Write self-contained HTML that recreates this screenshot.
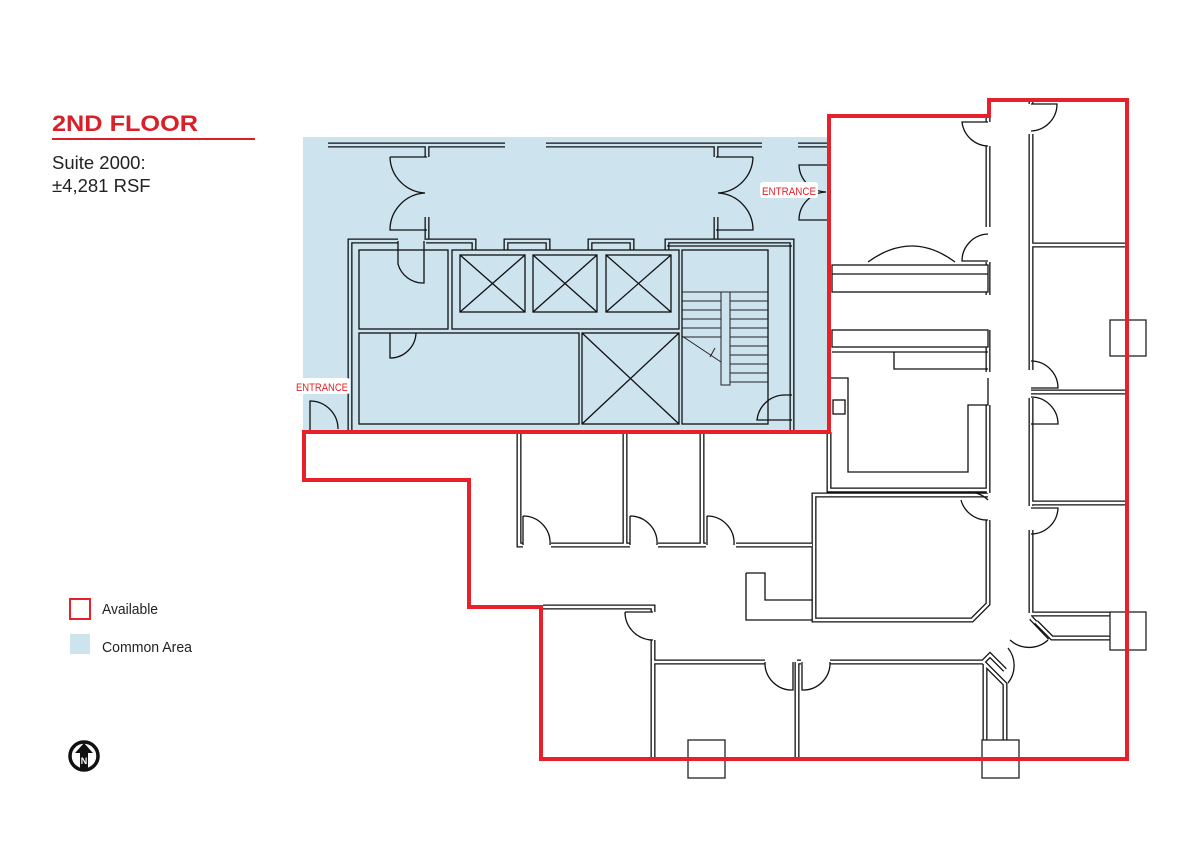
<!DOCTYPE html>
<html><head><meta charset="utf-8"><style>
html,body{margin:0;padding:0;background:#fff;}
body{width:1200px;height:850px;position:relative;overflow:hidden;font-family:"Liberation Sans",sans-serif;}
svg{position:absolute;left:0;top:0;}
.wo{fill:none;stroke:#111;stroke-width:5;stroke-linejoin:miter;stroke-linecap:butt}
.wi{fill:none;stroke:#fff;stroke-width:2.4;stroke-linejoin:miter;stroke-linecap:butt}
.wib{fill:none;stroke:#cde3ee;stroke-width:2.4}
.ln{fill:none;stroke:#111;stroke-width:1.3}
.th{fill:none;stroke:#222;stroke-width:1}
.bx{fill:#fff;stroke:#222;stroke-width:1.3}
</style></head><body>
<svg width="1200" height="850" viewBox="0 0 1200 850">
<rect x="303" y="137" width="526" height="295" fill="#cde3ee"/>

<g>
<path class="wo" d="M328,145 H505 M546,145 H762 M798,145 H829 M427,145 V157 M716,145 V157 M427,217 V240 M716,217 V240"/>
<path class="wib" d="M328,145 H505 M546,145 H762 M798,145 H829 M427,145 V157 M716,145 V157 M427,217 V240 M716,217 V240"/>
<path class="wo" d="M398,241 H350 V430 M426,241 H474 V250 M506,250 V241 H548 V250 M590,250 V241 H632 V250 M667,250 V241 H792 V430"/>
<path class="wib" d="M398,241 H350 V430 M426,241 H474 V250 M506,250 V241 H548 V250 M590,250 V241 H632 V250 M667,250 V241 H792 V430"/>
<rect x="359" y="250" width="89" height="79" class="ln" fill="none"/>
<rect x="359" y="333" width="220" height="91" class="ln" fill="none"/>
<rect x="452" y="250" width="227" height="79" class="ln" fill="none"/>
<rect x="582" y="333" width="97" height="91" class="ln" fill="none"/>
<rect x="682" y="250" width="86" height="174" class="ln" fill="none"/>
<path class="ln" d="M667,246 H792"/>
<g class="ln">
<rect x="460" y="255" width="65" height="57"/><path d="M460,255 L525,312 M525,255 L460,312"/>
<rect x="533" y="255" width="64" height="57"/><path d="M533,255 L597,312 M597,255 L533,312"/>
<rect x="606" y="255" width="65" height="57"/><path d="M606,255 L671,312 M671,255 L606,312"/>
<path d="M582,333 L679,424 M679,333 L582,424"/>
</g>
<g class="th">
<path d="M682,292 H768 M682,301 H721 M682,310 H721 M682,319 H721 M682,328 H721 M682,337 H721 M730,301 H768 M730,310 H768 M730,319 H768 M730,328 H768 M730,337 H768 M730,346 H768 M730,355 H768 M730,364 H768 M730,373 H768 M730,382 H768"/>
<rect x="721" y="292" width="9" height="93" fill="none"/>
<path d="M682,336 L721,362 M715,348 L710,357"/>
</g>
<g class="ln">
<path d="M390,157 H427 M390,157 A37,37 0 0 0 425,193 A37,37 0 0 0 390,230 H427"/>
<path d="M753,157 H716 M753,157 A37,37 0 0 1 718,193 A37,37 0 0 1 753,230 H716"/>
<path d="M828,165 H799 A28,28 0 0 0 826,192 A28,28 0 0 0 799,220 H828"/>
<path d="M398,241 V264 A26,26 0 0 0 424,283 V241"/>
<path d="M390,333 V358 A26,26 0 0 0 416,333"/>
<path d="M310,432 V401 A28,28 0 0 1 338,429"/>
<path d="M792,395 H785 A28,28 0 0 0 757,420 H792"/>
</g>
</g>

<g>
<path class="wo" d="M988,122 V118 M988,146 V227 M988,262 V295 M988,330 V372 M988,405 V493 M988,520 V604 L972,620 H814 V495 H988 M829,432 V490 H988 M1031,100 V104 M1031,134 V370 M1031,398 V506 M1031,530 V613 M1031,392 H1125 M1031,503 H1125 M1031,245 H1125 M1031,614 H1110 M1031,618 L1050,638"/>
<path class="wi" d="M988,122 V118 M988,146 V227 M988,262 V295 M988,330 V372 M988,405 V493 M988,520 V604 L972,620 H814 V495 H988 M829,432 V490 H988 M1031,100 V104 M1031,134 V370 M1031,398 V506 M1031,530 V613 M1031,392 H1125 M1031,503 H1125 M1031,245 H1125 M1031,614 H1110 M1031,618 L1050,638"/>
<path class="wo" d="M519,432 V545 H523 M551,545 H625 V432 M625,545 H630 M658,545 H702 V432 M702,545 H706 M736,545 H812"/>
<path class="wi" d="M519,432 V545 H523 M551,545 H625 V432 M625,545 H630 M658,545 H702 V432 M702,545 H706 M736,545 H812"/>
<path class="wo" d="M543,607 H653 V612 M653,640 V662 H765 M797,662 V759 M797,662 H801 M830,662 H983 L1005,684 V740 M985,665 V740 M653,662 V759 M983,662 L990,655 L1005,670"/>
<path class="wi" d="M543,607 H653 V612 M653,640 V662 H765 M797,662 V759 M797,662 H801 M830,662 H983 L1005,684 V740 M985,665 V740 M653,662 V759 M983,662 L990,655 L1005,670"/>
<path class="wo" d="M1036,622 L1052,638 H1110"/>
<path class="wi" d="M1036,622 L1052,638 H1110"/>
</g>
<g class="ln">
<rect x="832" y="265" width="156" height="27" fill="#fff"/><path d="M832,274 H988"/>
<rect x="832" y="330" width="156" height="17" fill="#fff"/>
<path d="M832,352 H988 M894,352 V369 H988"/>
<path d="M830,378 H848 V472 H968 V405 H988 V378"/>
<rect x="833" y="400" width="12" height="14" fill="#fff"/>
<path d="M746,573 H765 V600 H812 M746,573 V620 H812"/>
<path d="M868,262 Q912,230 955,262"/>
<path d="M988,122 H962 A27,27 0 0 0 988,146"/>
<path d="M988,234 A27,27 0 0 0 962,261 H988"/>
<path d="M1031,104 H1057 A27,27 0 0 1 1031,131"/>
<path d="M1031,361 A27,27 0 0 1 1058,388 H1031"/>
<path d="M1031,397 A27,27 0 0 1 1058,424 H1031"/>
<path d="M988,500 A27,27 0 0 0 962,493 M988,520 A27,27 0 0 1 961,500"/>
<path d="M1031,508 H1058 A27,27 0 0 1 1031,534"/>
<path d="M523,516 A27,27 0 0 1 550,545 M523,516 V545"/>
<path d="M630,516 A27,27 0 0 1 657,545 M630,516 V545"/>
<path d="M707,516 A27,27 0 0 1 734,545 M707,516 V545"/>
<path d="M625,612 H653 M625,612 A28,28 0 0 0 653,640"/>
<path d="M765,662 A27,27 0 0 0 793,690 V662"/>
<path d="M830,662 A27,27 0 0 1 802,690 V662"/>
<path d="M1010,640 A28,28 0 0 0 1048,640"/>
<path d="M1008,648 A28,28 0 0 1 1008,683"/>
<path d="M1127,116 V755" stroke="#999"/>
</g>
<g class="bx">
<rect x="1110" y="320" width="36" height="36"/>
<rect x="1110" y="612" width="36" height="38"/>
<rect x="688" y="740" width="37" height="38"/>
<rect x="982" y="740" width="37" height="38"/>
</g>

<path d="M829,432 V116 H989 V100 H1127 V759 H541 V607 H469 V480 H304 V432 Z" fill="none" stroke="#e8202a" stroke-width="4" stroke-linejoin="miter"/>

<rect x="760" y="182" width="58" height="16" rx="3" fill="#fff"/>
<text x="789" y="195" font-size="11" fill="#e8202a" text-anchor="middle" textLength="54" lengthAdjust="spacingAndGlyphs">ENTRANCE</text>
<rect x="294" y="378" width="56" height="16" rx="3" fill="#fff"/>
<text x="322" y="391" font-size="11" fill="#e8202a" text-anchor="middle" textLength="52" lengthAdjust="spacingAndGlyphs">ENTRANCE</text>

<text x="52" y="131" font-size="22" font-weight="bold" fill="#d9202a" textLength="146" lengthAdjust="spacingAndGlyphs">2ND FLOOR</text>
<rect x="52" y="138" width="203" height="2" fill="#d9202a"/>
<text x="52" y="169" font-size="18.5" fill="#222">Suite 2000:</text>
<text x="52" y="192" font-size="18.5" fill="#222">±4,281 RSF</text>

<rect x="70" y="599" width="20" height="20" fill="#fff" stroke="#e8202a" stroke-width="2"/>
<text x="102" y="614" font-size="15" fill="#222" textLength="56" lengthAdjust="spacingAndGlyphs">Available</text>
<rect x="70" y="634" width="20" height="20" fill="#cde3ee"/>
<text x="102" y="652" font-size="15" fill="#222" textLength="90" lengthAdjust="spacingAndGlyphs">Common Area</text>

<circle cx="84" cy="756" r="14" fill="#fff" stroke="#111" stroke-width="3.5"/>
<path d="M84,743 L93,753 H88 V769 H80 V753 H75 Z" fill="#111"/>
<text x="84" y="764" font-size="9" font-weight="bold" fill="#fff" text-anchor="middle">N</text>
</svg>
</body></html>
